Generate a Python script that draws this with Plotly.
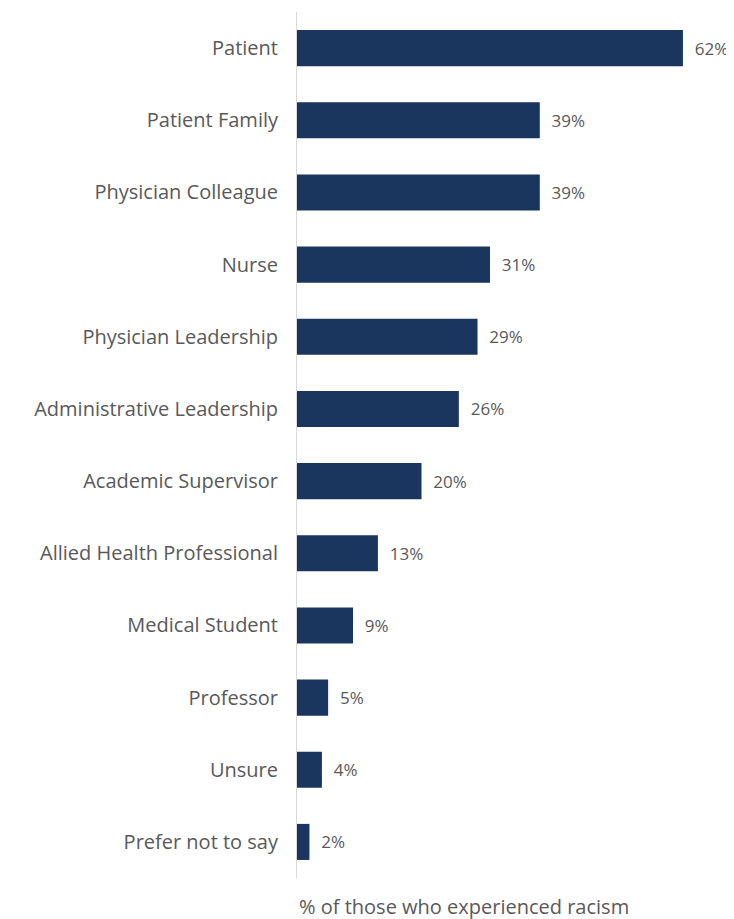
import plotly.graph_objects as go

categories = ["Patient", "Patient Family", "Physician Colleague", "Nurse",
              "Physician Leadership", "Administrative Leadership",
              "Academic Supervisor", "Allied Health Professional",
              "Medical Student", "Professor", "Unsure", "Prefer not to say"]
values = [62, 39, 39, 31, 29, 26, 20, 13, 9, 5, 4, 2]
value_labels = [f"{v}%" for v in values]
x_title = "% of those who experienced racism"

bar_color = "#1a365f"
text_color = "#595959"
font_family = "Open Sans"

# page body has an 8px default margin; compensate so plot lands where reference has it
fig = go.Figure(go.Bar(
    x=values,
    y=categories,
    orientation="h",
    marker=dict(color=bar_color, line=dict(width=0)),
    width=0.5,
    text=["  " + t for t in value_labels],
    textposition="outside",
    textfont=dict(color=text_color, size=17, family=font_family),
    cliponaxis=False,
))

fig.update_layout(
    width=726, height=911,
    margin=dict(l=289, r=0, t=4, b=41),
    plot_bgcolor="white", paper_bgcolor="white",
    showlegend=False,
    font=dict(family=font_family, color=text_color),
    xaxis=dict(range=[0, 70.2], visible=False, fixedrange=True),
    yaxis=dict(
        categoryorder="array", categoryarray=categories[::-1],
        showline=True, linecolor="#d9d9d9", linewidth=1,
        showgrid=False, ticks="", ticklabelstandoff=14,
        tickfont=dict(size=20, color=text_color, family=font_family),
    ),
    annotations=[dict(
        text=x_title, xref="x", x=0, xanchor="left",
        yref="paper", y=0, yanchor="middle", yshift=-28,
        showarrow=False, font=dict(size=20, color=text_color, family=font_family),
    )],
)

fig.write_html("out.html")
